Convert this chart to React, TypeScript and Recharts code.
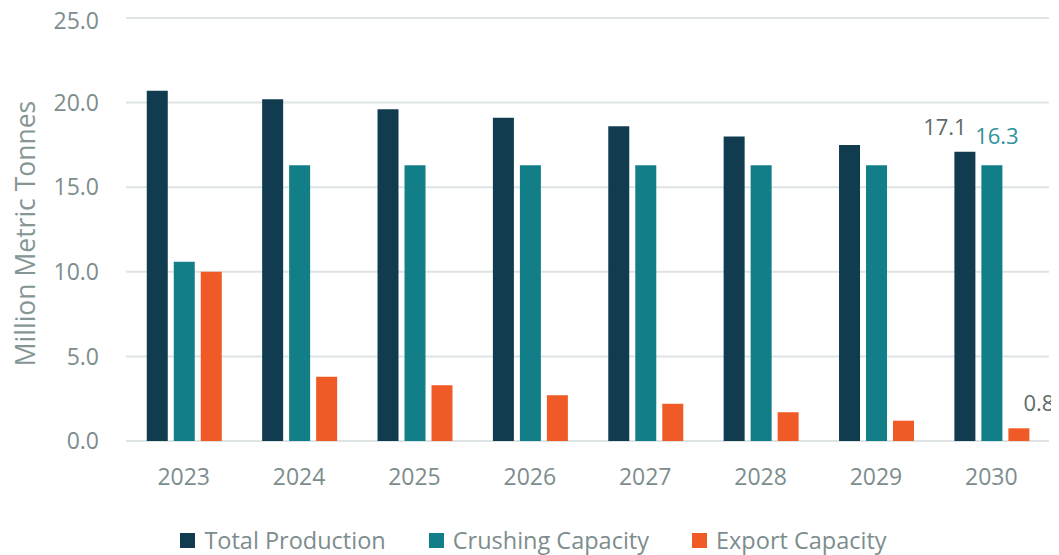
import React from 'react';
import { BarChart, Bar, XAxis, YAxis, CartesianGrid, Legend, LabelList, Label } from 'recharts';

const years = ['2023', '2024', '2025', '2026', '2027', '2028', '2029', '2030'];
const totalProduction = [20.7, 20.2, 19.6, 19.1, 18.6, 18.0, 17.5, 17.1];
const crushingCapacity = [10.6, 16.3, 16.3, 16.3, 16.3, 16.3, 16.3, 16.3];
const exportCapacity = [10.0, 3.8, 3.3, 2.7, 2.2, 1.7, 1.2, 0.75];
const yTicks = [0, 5, 10, 15, 20, 25];

const seriesNames = ['Total Production', 'Crushing Capacity', 'Export Capacity'];
const colors = ['#113c4f', '#127f88', '#f05a27'];

const data = years.map((year, i) => ({
  year,
  total: totalProduction[i],
  crushing: crushingCapacity[i],
  export: exportCapacity[i],
}));

const FONT = '"Open Sans", "Segoe UI", sans-serif';
const TEXT_COLOR = '#7d8d8d';

const lastLabel = (color: string, dx: number, dy: number) => (props: any) => {
  const { x, y, width, value, index } = props;
  if (index !== years.length - 1) return null;
  return (
    <text
      x={Number(x) + Number(width) / 2 + dx}
      y={Number(y) - dy}
      fill={color}
      textAnchor="middle"
      fontSize={22}
      fontFamily={FONT}
    >
      {Number(value).toFixed(1)}
    </text>
  );
};

const LegendContent = () => (
  <div
    style={{
      display: 'flex',
      justifyContent: 'center',
      alignItems: 'center',
      fontFamily: FONT,
      fontSize: 23.5,
      color: TEXT_COLOR,
      lineHeight: '30px',
    }}
  >
    {seriesNames.map((name, i) => (
      <div
        key={name}
        style={{ display: 'flex', alignItems: 'center', marginRight: i < seriesNames.length - 1 ? 43 : 0 }}
      >
        <span style={{ width: 15, height: 15, background: colors[i], display: 'inline-block', marginRight: 9 }} />
        <span>{name}</span>
      </div>
    ))}
  </div>
);

const YLabel = (props: any) => {
  const { viewBox } = props;
  const cx = viewBox.x + 17;
  const cy = viewBox.y + viewBox.height / 2 + 4;
  return (
    <text
      x={cx}
      y={cy}
      transform={`rotate(-90, ${cx}, ${cy})`}
      textAnchor="middle"
      dominantBaseline="central"
      fill="#869696"
      fontSize={26.5}
      fontFamily={FONT}
    >
      Million Metric Tonnes
    </text>
  );
};

export default function App() {
  return (
    <BarChart
      width={1051}
      height={547}
      data={data}
      margin={{ top: 10, right: 10, bottom: 54, left: 0 }}
      barCategoryGap="18%"
      barGap={6}
    >
      <CartesianGrid vertical={false} stroke="#dde4e3" strokeWidth={2} />
      <XAxis
        dataKey="year"
        axisLine={false}
        tickLine={false}
        tickMargin={22}
        height={60}
        tick={{ fill: TEXT_COLOR, fontSize: 23, fontFamily: FONT }}
      />
      <YAxis
        domain={[0, 25]}
        ticks={yTicks}
        width={118}
        axisLine={false}
        tickLine={false}
        tickMargin={21}
        tickFormatter={(v: number) => v.toFixed(1)}
        tick={{ fill: TEXT_COLOR, fontSize: 23, fontFamily: FONT }}
      >
        <Label content={YLabel} />
      </YAxis>
      <Legend
        layout="horizontal"
        verticalAlign="middle"
        align="center"
        content={LegendContent}
        wrapperStyle={{ top: 517, left: 0, width: 1051 }}
      />
      <Bar dataKey="total" name={seriesNames[0]} fill={colors[0]} isAnimationActive={false}>
        <LabelList dataKey="total" content={lastLabel('#5e6a6a', -20, 17)} />
      </Bar>
      <Bar dataKey="crushing" name={seriesNames[1]} fill={colors[1]} isAnimationActive={false}>
        <LabelList dataKey="crushing" content={lastLabel('#2f939c', 5, 21)} />
      </Bar>
      <Bar dataKey="export" name={seriesNames[2]} fill={colors[2]} isAnimationActive={false}>
        <LabelList dataKey="export" content={lastLabel('#5e6a6a', 20, 17)} />
      </Bar>
    </BarChart>
  );
}
